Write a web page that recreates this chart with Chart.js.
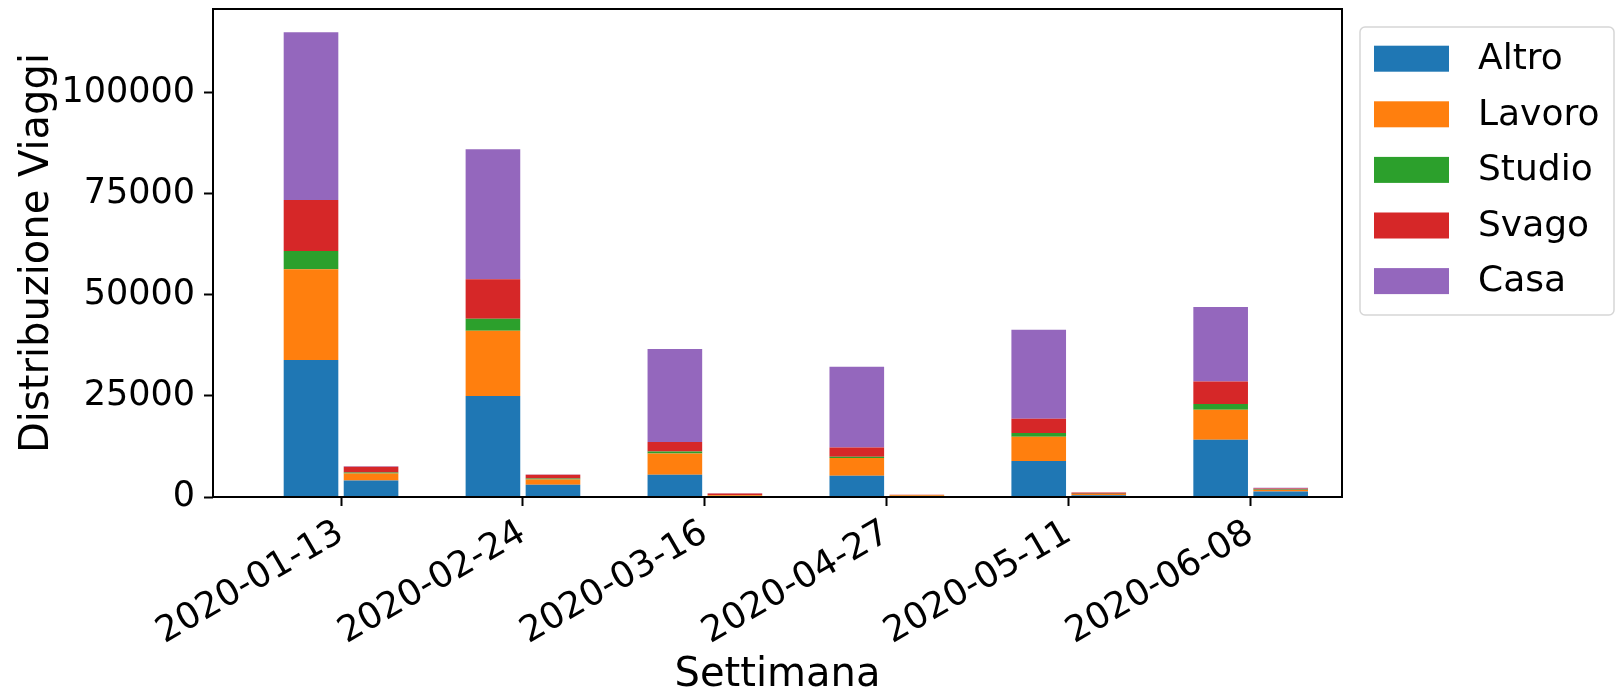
<!DOCTYPE html>
<html>
<head>
<meta charset="utf-8">
<script src="https://cdn.jsdelivr.net/npm/chart.js@4.4.1/dist/chart.umd.min.js"></script>
<style>
  html, body { margin: 0; padding: 0; background: #fff; }
  canvas { display: block; }
</style>
</head>
<body>
<canvas id="chartViaggi" width="1616" height="692"></canvas>
<script>
// settimane e motivi
const settimane = ["2020-01-13", "2020-02-24", "2020-03-16", "2020-04-27", "2020-05-11", "2020-06-08"];
const motivi = ["Altro", "Lavoro", "Studio", "Svago", "Casa"];
const colori = ["#1f77b4", "#ff7f0e", "#2ca02c", "#d62728", "#9467bd"];

// barre grandi (sinistra di ogni tick)
const altroGrande  = [33880, 24980, 5510, 5270, 8900, 14170];
const lavoroGrande = [22500, 16150, 5270, 4370, 6010, 7420];
const studioGrande = [4460, 2960, 500, 330, 920, 1410];
const svagoGrande  = [12680, 9820, 2320, 2300, 3530, 5590];
const casaGrande   = [41480, 32150, 23000, 19950, 22010, 18400];

// barre piccole (destra di ogni tick)
const altroPiccolo  = [4110, 3040, 200, 100, 450, 1380];
const lavoroPiccolo = [1730, 1310, 250, 350, 300, 350];
const studioPiccolo = [250, 250, 50, 20, 50, 150];
const svagoPiccolo  = [1400, 910, 350, 80, 300, 250];
const casaPiccolo   = [100, 80, 50, 20, 40, 170];

const yTicks = [0, 25000, 50000, 75000, 100000];

const grandi = [altroGrande, lavoroGrande, studioGrande, svagoGrande, casaGrande];
const piccoli = [altroPiccolo, lavoroPiccolo, studioPiccolo, svagoPiccolo, casaPiccolo];

const totali = settimane.map((_, i) => grandi.reduce((a, s) => a + s[i], 0));
const yMax = Math.max(...totali) * 1.05;

Chart.defaults.font.family = "'DejaVu Sans', sans-serif";
Chart.defaults.color = "#000";

const datasets = [];
motivi.forEach((m, k) => {
  datasets.push({ label: m, data: grandi[k].map((v, i) => ({ x: i, y: v })), backgroundColor: colori[k], stack: "grande" });
  datasets.push({ label: m, data: piccoli[k].map((v, i) => ({ x: i, y: v })), backgroundColor: colori[k], stack: "piccolo" });
});

// cornice degli assi + legenda stile matplotlib
const cornice = {
  id: "cornice",
  afterDraw(chart) {
    const { ctx, chartArea: a } = chart;
    ctx.save();
    ctx.strokeStyle = "#000";
    ctx.lineWidth = 2;
    ctx.strokeRect(a.left, a.top, a.right - a.left, a.bottom - a.top);

    // legenda
    ctx.fillStyle = "rgba(255,255,255,0.8)";
    ctx.strokeStyle = "#d6d6d6";
    ctx.lineWidth = 1.5;
    ctx.beginPath();
    ctx.roundRect(1360, 27, 254, 288, 5);
    ctx.fill();
    ctx.stroke();
    const voci = chart.data.datasets.filter(d => d.stack === "grande");
    ctx.font = "36px 'DejaVu Sans'";
    ctx.textBaseline = "middle";
    ctx.textAlign = "left";
    voci.forEach((d, i) => {
      const yc = 58.7 + i * 55.6;
      ctx.fillStyle = d.backgroundColor;
      ctx.fillRect(1374, yc - 13, 75, 26);
      ctx.fillStyle = "#000";
      ctx.fillText(d.label, 1478, yc + 1);
    });
    ctx.restore();
  }
};

new Chart(document.getElementById("chartViaggi"), {
  type: "bar",
  data: { datasets },
  plugins: [cornice],
  options: {
    responsive: false,
    animation: false,
    layout: { padding: { top: 9, right: 274, left: 0, bottom: 0 } },
    categoryPercentage: 0.66,
    barPercentage: 0.91,
    plugins: { legend: { display: false }, tooltip: { enabled: false } },
    scales: {
      x: {
        type: "linear",
        offset: false,
        min: -0.7037,
        max: 5.502,
        afterBuildTicks: s => { s.ticks = settimane.map((_, i) => ({ value: i })); },
        afterFit: s => { s.height = 195; s.paddingLeft = 0; s.paddingRight = 0; },
        ticks: {
          autoSkip: false, minRotation: 30, maxRotation: 30, padding: 6,
          font: { size: 36 },
          callback: v => settimane[v]
        },
        grid: { offset: false, drawOnChartArea: false, tickLength: 9, tickColor: "#000", tickWidth: 2 },
        border: { display: false },
        title: { display: true, text: "Settimana", font: { size: 40, lineHeight: 1.0 }, padding: { top: 0, bottom: -4 } }
      },
      y: {
        stacked: true,
        min: 0,
        max: yMax,
        afterBuildTicks: s => { s.ticks = yTicks.map(v => ({ value: v })); },
        afterFit: s => { s.width = 213; s.paddingTop = 0; s.paddingBottom = 0; },
        ticks: { padding: 9, font: { size: 35 }, callback: v => String(v) },
        grid: { drawOnChartArea: false, tickLength: 9, tickColor: "#000", tickWidth: 2 },
        border: { display: false },
        title: { display: true, text: "Distribuzione Viaggi", font: { size: 40 }, padding: { top: 14, bottom: 0 } }
      }
    }
  }
});
</script>
</body>
</html>
